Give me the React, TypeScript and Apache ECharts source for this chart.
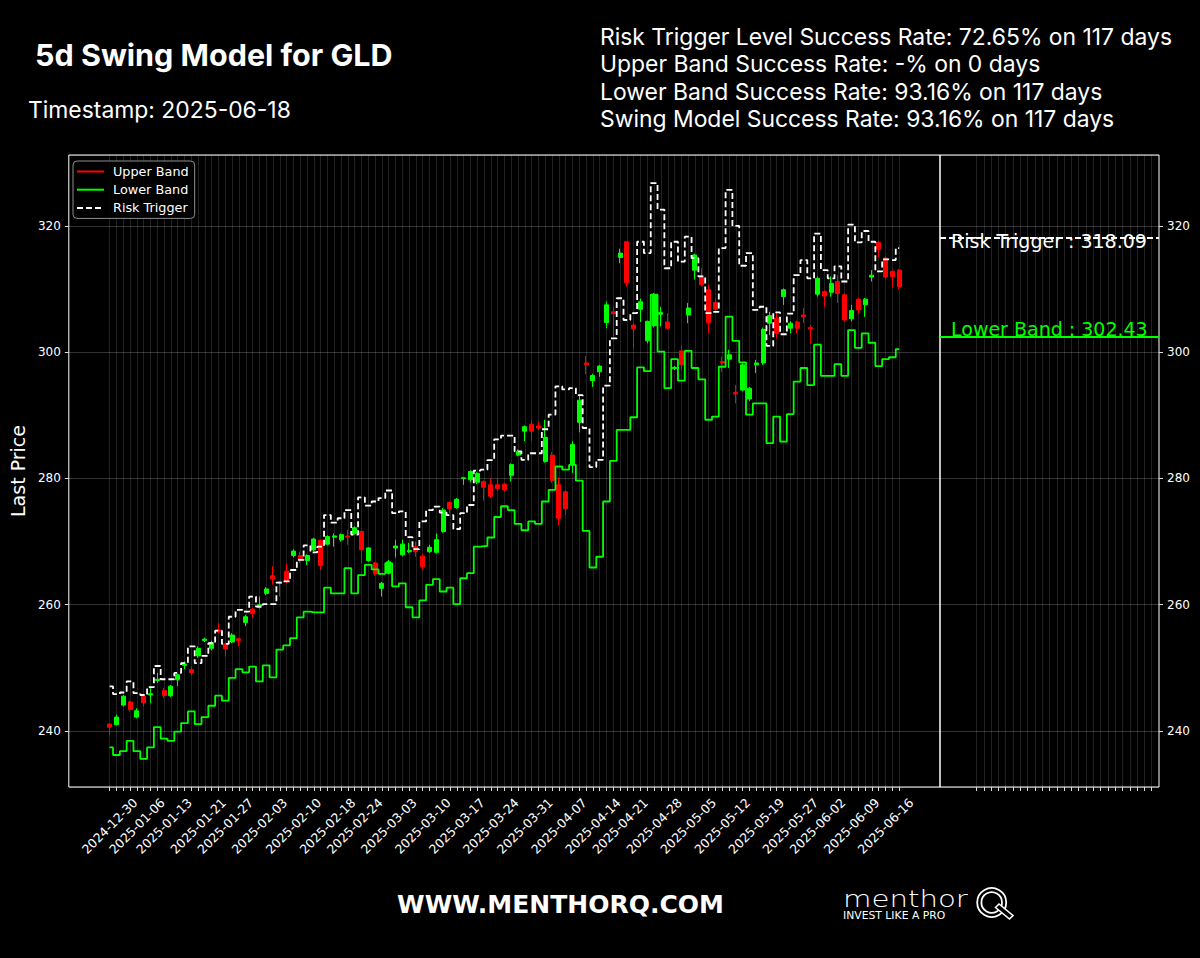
import React, { useEffect, useRef } from 'react';
import * as echarts from 'echarts';

const dates = [
  '2024-12-30','2024-12-31','2025-01-02','2025-01-03','2025-01-06','2025-01-07','2025-01-08','2025-01-10','2025-01-13','2025-01-14',
  '2025-01-15','2025-01-16','2025-01-17','2025-01-21','2025-01-22','2025-01-23','2025-01-24','2025-01-27','2025-01-28','2025-01-29',
  '2025-01-30','2025-01-31','2025-02-03','2025-02-04','2025-02-05','2025-02-06','2025-02-07','2025-02-10','2025-02-11','2025-02-12',
  '2025-02-13','2025-02-14','2025-02-18','2025-02-19','2025-02-20','2025-02-21','2025-02-24','2025-02-25','2025-02-26','2025-02-27',
  '2025-02-28','2025-03-03','2025-03-04','2025-03-05','2025-03-06','2025-03-07','2025-03-10','2025-03-11','2025-03-12','2025-03-13',
  '2025-03-14','2025-03-17','2025-03-18','2025-03-19','2025-03-20','2025-03-21','2025-03-24','2025-03-25','2025-03-26','2025-03-27',
  '2025-03-28','2025-03-31','2025-04-01','2025-04-02','2025-04-03','2025-04-04','2025-04-07','2025-04-08','2025-04-09','2025-04-10',
  '2025-04-11','2025-04-14','2025-04-15','2025-04-16','2025-04-17','2025-04-21','2025-04-22','2025-04-23','2025-04-24','2025-04-25',
  '2025-04-28','2025-04-29','2025-04-30','2025-05-01','2025-05-02','2025-05-05','2025-05-06','2025-05-07','2025-05-08','2025-05-09',
  '2025-05-12','2025-05-13','2025-05-14','2025-05-15','2025-05-16','2025-05-19','2025-05-20','2025-05-21','2025-05-22','2025-05-23',
  '2025-05-27','2025-05-28','2025-05-29','2025-05-30','2025-06-02','2025-06-03','2025-06-04','2025-06-05','2025-06-06','2025-06-09',
  '2025-06-10','2025-06-11','2025-06-12','2025-06-13','2025-06-16','2025-06-17','2025-06-18',
];

const tickDates = [
  '2024-12-30','2025-01-06','2025-01-13','2025-01-21','2025-01-27','2025-02-03','2025-02-10','2025-02-18','2025-02-24',
  '2025-03-03','2025-03-10','2025-03-17','2025-03-24','2025-03-31','2025-04-07','2025-04-14','2025-04-21','2025-04-28',
  '2025-05-05','2025-05-12','2025-05-19','2025-05-27','2025-06-02','2025-06-09','2025-06-16',
];

const openP = [
  241.1,241.0,244.1,244.6,242.2,245.5,245.7,248.0,246.4,245.6,
  248.1,250.4,249.7,251.9,254.35,253.1,256.0,253.8,254.1,254.6,
  257.2,259.3,259.6,261.8,264.6,263.6,265.3,267.8,267.8,267.0,
  268.7,270.2,269.6,270.7,270.3,270.9,271.3,271.6,267.0,266.6,
  262.6,265.0,269.0,267.9,268.4,269.2,267.7,268.4,268.3,271.6,
  276.2,275.4,280.0,279.8,279.4,279.5,279.0,279.0,279.1,280.5,
  283.7,287.5,288.6,288.3,282.7,283.7,279.0,277.9,282.2,288.9,
  298.3,295.5,296.9,304.7,306.4,315.0,317.5,304.3,306.8,301.8,
  304.2,306.0,304.8,297.4,300.2,305.9,313.0,312.1,309.9,307.9,
  298.5,298.9,293.6,294.0,292.6,298.0,298.3,304.6,305.4,308.8,
  303.8,304.8,305.9,303.9,309.2,309.6,309.5,311.2,309.1,305.3,
  308.4,307.5,311.9,317.4,314.9,312.8,313.0,
];

const closeP = [
  240.6,242.2,245.5,243.4,243.2,244.5,245.9,248.2,245.6,247.1,
  248.9,250.6,249.2,253.1,254.55,254.0,255.7,253.0,255.2,254.3,
  258.1,258.6,260.0,262.5,264.1,263.4,263.7,268.5,267.3,267.8,
  270.4,266.2,270.8,270.9,271.1,270.7,272.2,268.7,269.0,264.9,
  263.4,266.8,269.3,269.6,268.6,268.4,266.0,269.1,270.3,275.0,
  275.2,276.7,280.1,281.1,280.8,278.6,277.2,278.4,278.2,282.2,
  284.3,288.2,287.5,288.0,286.5,279.7,273.7,275.2,285.4,292.4,
  298.0,296.3,297.8,307.5,306.1,315.7,311.0,303.7,308.0,304.9,
  309.1,306.3,303.8,297.6,298.0,307.0,315.4,310.7,304.7,306.8,
  298.3,299.6,293.4,298.0,294.3,298.3,303.6,305.8,303.0,309.9,
  304.6,303.8,305.6,303.7,311.7,308.9,310.9,309.3,305.1,306.6,
  306.7,308.4,312.2,316.3,311.9,312.0,310.4,
];

const lowP = [
  239.4,240.9,243.9,243.1,242.0,243.9,244.4,247.6,245.2,245.4,
  247.1,249.8,248.8,251.6,254.1,252.8,255.5,251.8,253.9,253.4,
  256.6,257.9,259.4,261.5,263.2,261.3,263.4,267.5,266.6,266.3,
  268.5,265.5,269.4,269.2,270.0,269.5,271.1,266.6,266.8,264.6,
  261.3,264.8,267.5,267.7,268.2,267.6,265.6,268.2,268.1,271.4,
  274.5,275.2,279.0,279.4,279.1,276.5,276.9,278.1,277.9,279.5,
  283.5,285.9,285.9,287.7,282.5,279.3,272.6,274.2,280.9,287.3,
  296.5,294.5,296.1,303.8,302.6,314.1,310.4,300.6,304.8,301.4,
  303.9,304.1,303.6,297.2,297.2,304.6,311.5,310.4,303.0,306.5,
  296.9,297.5,291.9,293.8,292.3,296.7,298.0,302.7,302.2,307.5,
  303.0,303.0,304.6,301.4,308.8,307.2,308.8,307.8,304.9,304.9,
  306.1,305.6,311.2,315.0,311.6,310.3,310.0,
];

const highP = [
  241.2,242.6,245.7,244.8,243.6,245.6,246.8,249.2,246.8,247.3,
  249.1,251.0,250.2,253.4,254.8,254.3,257.1,254.0,255.5,254.8,
  258.4,259.5,261.3,262.8,266.1,263.7,266.5,268.8,268.4,268.0,
  270.6,270.3,271.0,271.3,271.3,271.9,272.4,271.8,269.1,266.8,
  263.6,267.1,270.3,270.3,269.8,270.0,268.0,269.5,271.3,275.3,
  276.4,276.9,280.2,281.3,281.0,279.7,280.0,280.0,279.3,282.4,
  284.6,288.4,289.3,289.0,289.3,284.2,280.2,278.1,285.9,293.2,
  299.4,296.6,298.0,308.0,307.2,316.4,317.6,304.6,308.5,305.0,
  309.4,307.2,306.2,297.8,301.0,307.8,315.6,313.3,310.7,308.5,
  299.3,300.4,294.8,298.2,294.5,298.8,303.9,306.4,306.4,310.1,
  304.9,305.0,307.0,304.3,312.0,309.8,312.0,312.2,309.3,307.5,
  308.6,308.6,313.0,317.6,315.2,313.0,313.2,
];

const riskTrigger = [
  247.06,245.84,246.1,247.85,246.0,245.7,246.95,250.3,248.2,248.2,
  249.2,250.75,253.4,250.75,251.9,253.9,255.9,253.8,258.1,259.2,
  258.9,261.3,259.7,260.1,260.1,263.5,263.7,265.5,267.1,269.4,
  268.3,269.2,274.2,273.0,273.7,275.0,271.1,277.0,275.7,276.35,
  276.9,278.1,274.5,274.8,270.7,268.8,273.2,275.0,275.55,274.6,
  274.2,272.0,274.5,275.8,281.25,281.4,282.9,286.2,286.8,286.8,
  284.3,282.95,284.0,284.0,287.8,290.1,294.6,294.1,294.3,293.2,
  288.0,281.8,282.95,294.7,302.2,308.55,305.1,306.2,317.5,315.7,
  326.8,322.6,313.3,317.5,314.35,318.3,314.9,312.0,306.2,306.4,
  316.5,325.7,320.0,313.7,315.7,306.7,307.2,301.0,306.3,302.85,
  306.1,312.2,314.6,311.7,318.8,313.0,311.7,313.6,311.2,320.2,
  317.4,319.2,317.5,312.8,314.7,314.6,316.5,
];

const lowerBand = [
  237.4,236.2,236.8,238.45,236.8,235.6,237.4,240.6,238.8,238.45,
  239.9,241.25,243.1,241.1,242.2,244.0,245.6,244.8,248.4,249.8,
  249.3,250.2,247.85,250.4,248.5,252.9,253.55,254.7,258.0,258.9,
  258.8,258.8,262.7,261.8,261.8,265.8,261.8,264.7,266.3,265.6,
  264.9,266.6,262.9,263.4,259.6,258.0,260.7,263.15,264.05,262.1,
  262.7,260.1,264.2,265.0,269.2,269.3,270.65,273.9,275.6,275.0,
  272.8,271.8,273.2,272.8,276.35,278.2,281.9,281.4,282.15,279.65,
  271.7,265.9,267.6,276.35,282.8,287.7,287.7,289.7,297.6,297.0,
  309.1,300.1,294.3,298.9,295.5,300.2,297.5,295.7,289.3,289.8,
  297.7,305.65,301.8,298.4,290.1,291.9,291.9,285.6,289.8,285.85,
  290.2,295.35,297.5,294.8,301.2,296.25,296.25,298.1,296.25,303.5,
  300.7,303.0,301.5,297.8,298.9,299.2,300.5,
];

const upperBand: number[] = [];

const riskTriggerLevel = 318.09;
const lowerBandLevel = 302.43;

const titleText = '5d Swing Model for GLD';
const timestampText = 'Timestamp: 2025-06-18';
const statLines = [
  'Risk Trigger Level Success Rate: 72.65% on 117 days',
  'Upper Band Success Rate: -% on 0 days',
  'Lower Band Success Rate: 93.16% on 117 days',
  'Swing Model Success Rate: 93.16% on 117 days',
];

const PAD = 6;
const Y_MIN = 231.13;
const Y_MAX = 331.24;

export default function App() {
  const ref = useRef<HTMLDivElement>(null);

  useEffect(() => {
    document.body.style.margin = '0';
    document.body.style.background = '#000';
    const el = ref.current;
    if (!el) return;
    const chart = echarts.init(el, null, { renderer: 'svg' });

    const padL = Array.from({ length: PAD }, (_, k) => `padL${k}`);
    const padR = Array.from({ length: PAD }, (_, k) => `padR${k}`);
    const cats = [...padL, ...dates, ...padR];
    const isReal = (v: string) => !String(v).startsWith('pad');
    const labelSet = new Set(tickDates);
    const rightCats = Array.from({ length: 31 }, (_, k) => `r${k}`);

    const candleData = dates.map((_, i) => [i + PAD, openP[i], closeP[i], lowP[i], highP[i]]);
    const riskData = dates.map((_, i) => [i + PAD, riskTrigger[i]]);
    const lowerData = dates.map((_, i) => [i + PAD, lowerBand[i]]);
    const upperData = upperBand.map((v, i) => [i + PAD, v]);

    const tickFont = { color: '#ffffff', fontFamily: 'DejaVu Sans', fontSize: 12 };

    const option: any = {
      animation: false,
      backgroundColor: '#000000',
      grid: [
        { left: 66, top: 155, width: 874, height: 632, show: true, borderColor: '#ffffff', borderWidth: 1, backgroundColor: 'transparent', containLabel: false },
        { left: 940, top: 155, width: 219, height: 632, show: true, borderColor: '#ffffff', borderWidth: 1, backgroundColor: 'transparent', containLabel: false },
      ],
      legend: {
        data: ['Upper Band', 'Lower Band', 'Risk Trigger'],
        orient: 'vertical',
        align: 'left',
        left: 73,
        top: 161,
        padding: [4, 6, 4, 3],
        itemWidth: 27,
        itemHeight: 14,
        itemGap: 5.2,
        itemStyle: { opacity: 0 },
        backgroundColor: 'rgba(0,0,0,0.85)',
        borderColor: '#8c8c8c',
        borderWidth: 1,
        borderRadius: 4,
        textStyle: { color: '#ffffff', fontFamily: 'DejaVu Sans', fontSize: 12.8, padding: [0, 0, 0, 4] },
        selectedMode: false,
      },
      xAxis: [
        {
          type: 'category',
          gridIndex: 0,
          data: cats,
          boundaryGap: false,
          axisLine: { show: false },
          axisTick: { show: true, interval: (_i: number, v: string) => isReal(v), length: 4, lineStyle: { color: '#dddddd', width: 1 } },
          axisLabel: {
            ...tickFont,
            fontSize: 12.5,
            interval: (_i: number, v: string) => labelSet.has(v),
            rotate: 45,
            align: 'center',
            verticalAlign: 'middle',
            margin: 39,
          },
          splitLine: { show: true, interval: (_i: number, v: string) => isReal(v), lineStyle: { color: 'rgba(255,255,255,0.13)', width: 1 } },
        },
        {
          type: 'category',
          gridIndex: 1,
          data: rightCats,
          boundaryGap: false,
          axisLine: { show: false },
          axisTick: { show: true, interval: (i: number) => i >= 5 && i <= 29, length: 4, lineStyle: { color: '#dddddd', width: 1 } },
          axisLabel: { show: false },
          splitLine: { show: true, interval: (i: number) => i >= 5 && i <= 29, lineStyle: { color: 'rgba(255,255,255,0.13)', width: 1 } },
        },
      ],
      yAxis: [
        {
          type: 'value',
          gridIndex: 0,
          min: Y_MIN,
          max: Y_MAX,
          splitNumber: 5,
          name: 'Last Price',
          nameLocation: 'middle',
          nameGap: 41,
          nameTextStyle: { color: '#ffffff', fontFamily: 'DejaVu Sans', fontSize: 19 },
          axisLine: { show: false },
          axisTick: { show: true, length: 4, lineStyle: { color: '#dddddd' } },
          axisLabel: { ...tickFont, margin: 8, showMinLabel: false, showMaxLabel: false },
          splitLine: { show: true, lineStyle: { color: 'rgba(255,255,255,0.2)', width: 1 } },
        },
        {
          type: 'value',
          gridIndex: 1,
          position: 'right',
          min: Y_MIN,
          max: Y_MAX,
          splitNumber: 5,
          axisLine: { show: false },
          axisTick: { show: true, length: 4, lineStyle: { color: '#dddddd' } },
          axisLabel: { ...tickFont, margin: 8, showMinLabel: false, showMaxLabel: false },
          splitLine: { show: true, lineStyle: { color: 'rgba(255,255,255,0.2)', width: 1 } },
        },
      ],
      series: [
        {
          name: 'Price',
          type: 'candlestick',
          xAxisIndex: 0,
          yAxisIndex: 0,
          data: candleData,
          encode: { x: 0, y: [1, 2, 3, 4] },
          barWidth: 4.5,
          itemStyle: { color: '#00ff00', color0: '#ff0000', borderColor: '#00ff00', borderColor0: '#ff0000', borderWidth: 1 },
        },
        {
          name: 'Upper Band',
          type: 'line',
          xAxisIndex: 0,
          yAxisIndex: 0,
          data: upperData,
          symbol: 'none',
          color: '#ff0000',
          lineStyle: { color: '#ff0000', width: 1.8 },
        },
        {
          name: 'Lower Band',
          type: 'line',
          xAxisIndex: 0,
          yAxisIndex: 0,
          data: lowerData,
          step: 'middle',
          symbol: 'none',
          color: '#00ff00',
          lineStyle: { color: '#00ff00', width: 1.8 },
        },
        {
          name: 'Risk Trigger',
          type: 'line',
          xAxisIndex: 0,
          yAxisIndex: 0,
          data: riskData,
          step: 'middle',
          symbol: 'none',
          color: '#ffffff',
          lineStyle: { color: '#ffffff', width: 1.8, type: [6, 3] },
        },
        {
          name: 'Levels',
          type: 'line',
          xAxisIndex: 1,
          yAxisIndex: 1,
          data: [],
          symbol: 'none',
          silent: true,
          markLine: {
            silent: true,
            symbol: ['none', 'none'],
            animation: false,
            data: [
              {
                yAxis: riskTriggerLevel,
                lineStyle: { color: '#ffffff', width: 1.8, type: [6, 3] },
                label: {
                  show: true,
                  formatter: `Risk Trigger : ${riskTriggerLevel.toFixed(2)}`,
                  position: 'insideStartBottom',
                  distance: [11, -7],
                  color: '#ffffff',
                  fontFamily: 'DejaVu Sans',
                  fontSize: 19,
                },
              },
              {
                yAxis: lowerBandLevel,
                lineStyle: { color: '#00ff00', width: 1.8, type: 'solid' },
                label: {
                  show: true,
                  formatter: `Lower Band : ${lowerBandLevel.toFixed(2)}`,
                  position: 'insideStartTop',
                  distance: [11, -2],
                  color: '#00ff00',
                  fontFamily: 'DejaVu Sans',
                  fontSize: 19,
                },
              },
            ],
          },
        },
      ],
      graphic: [
        { type: 'text', x: 35, y: 54.5, style: { text: titleText, fill: '#ffffff', fontFamily: 'Inter', fontWeight: 'bold', fontSize: 30.5, align: 'left', verticalAlign: 'middle' } },
        { type: 'text', x: 28, y: 109.5, style: { text: timestampText, fill: '#ffffff', fontFamily: 'Inter', fontSize: 22.9, align: 'left', verticalAlign: 'middle' } },
        ...statLines.map((t, k) => ({
          type: 'text', x: 600, y: 37 + k * 27.3,
          style: { text: t, fill: '#ffffff', fontFamily: 'Inter', fontSize: 22.9, align: 'left', verticalAlign: 'middle' },
        })),
        { type: 'text', x: 560.5, y: 904, style: { text: 'WWW.MENTHORQ.COM', fill: '#ffffff', fontFamily: 'DejaVu Sans', fontWeight: 'bold', fontSize: 25, align: 'center', verticalAlign: 'middle' } },
        { type: 'text', x: 843, y: 899, scaleX: 1.3, style: { text: 'menthor', fill: '#ffffff', fontFamily: 'DejaVu Sans', fontWeight: 200, fontSize: 22.5, align: 'left', verticalAlign: 'middle' } },
        { type: 'text', x: 843, y: 915.5, style: { text: 'INVEST LIKE A PRO', fill: '#ffffff', fontFamily: 'DejaVu Sans', fontSize: 10.8, align: 'left', verticalAlign: 'middle' } },
        { type: 'circle', shape: { cx: 991.7, cy: 902.5, r: 14.5 }, style: { fill: 'none', stroke: '#ffffff', lineWidth: 1.8 } },
        { type: 'circle', shape: { cx: 991.7, cy: 902.5, r: 10.3 }, style: { fill: 'none', stroke: '#ffffff', lineWidth: 1.8 } },
        { type: 'polygon', shape: { points: [[995.5, 907.5], [999, 904], [1013, 915.5], [1009.5, 919]] }, style: { fill: '#000000', stroke: '#ffffff', lineWidth: 1.6 } },
      ],
    };

    chart.setOption(option);
    return () => chart.dispose();
  }, []);

  return <div ref={ref} style={{ width: 1200, height: 958, background: '#000' }} />;
}
